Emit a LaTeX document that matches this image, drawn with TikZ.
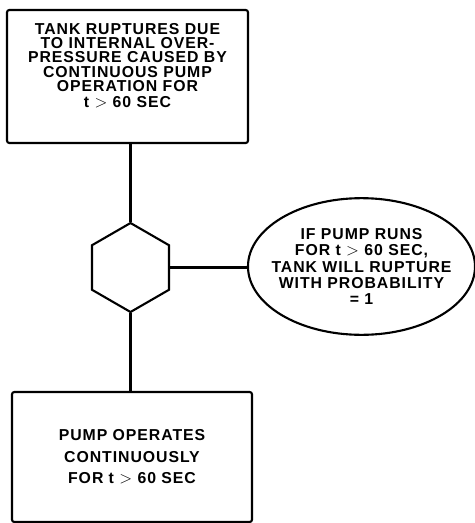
\documentclass[tikz,border=0pt]{standalone}
\usepackage{fontspec}
\newfontfamily\ftafont{Liberation Sans}[LetterSpace=6]
\usepackage{tikz}
\usetikzlibrary{positioning,shapes.geometric,calc}
\newcommand{\bigGt}{{\fontsize{15}{15}\selectfont$>$}}
\tikzset{
  evbox/.style={draw=black,rounded corners=2pt,line width=1.8pt,inner sep=0pt},
  evtxt/.style={align=center,font=\ftafont\bfseries\fontsize{13.5}{12.3}\selectfont,inner sep=0pt},
  gate/.style={regular polygon,regular polygon sides=6,shape border rotate=30,draw=black,
    line width=1.8pt,minimum size=2.67cm,inner sep=0pt},
  cond/.style={ellipse,draw=black,line width=1.8pt,minimum width=6.81cm,minimum height=4.1cm,
    inner sep=0pt},
  link/.style={draw=black,line width=1.8pt},
}
\begin{document}
\begin{tikzpicture}[x=0.03cm,y=-0.03cm]
  \useasboundingbox (0,0) rectangle (475,523);
  % top event
  \node[evbox,minimum width=7.23cm,minimum height=3.99cm] (top) at (127.5,76.5) {};
  \node[evtxt] (toptxt) at (127.5,65.5) {TANK RUPTURES DUE\\TO INTERNAL OVER-\\PRESSURE CAUSED BY\\CONTINUOUS PUMP\\OPERATION FOR\\[1.2pt]t \bigGt\ 60 SEC};
  % inhibit gate and its condition
  \node[gate] (hex) at (130.5,267.5) {};
  \node[cond] (ell) at (361.5,266.5) {};
  \node[evtxt,font=\ftafont\bfseries\fontsize{13.5}{13.8}\selectfont] (elltxt) at (ell)
    {IF PUMP RUNS\\FOR t \bigGt\ 60 SEC,\\TANK WILL RUPTURE\\WITH PROBABILITY\\= 1};
  % input event
  \node[evbox,minimum width=7.2cm,minimum height=3.9cm,align=center,
    font=\ftafont\bfseries\fontsize{13.5}{18.4}\selectfont] (bot) at (132,457)
    {PUMP OPERATES\\CONTINUOUSLY\\FOR t \bigGt\ 60 SEC};
  % connectors
  \draw[link] (hex.north) -- (hex.north |- top.south);
  \draw[link] (hex.south) -- (hex.south |- bot.north);
  \draw[link] (hex.east) -- (hex.east -| ell.west);
\end{tikzpicture}
\end{document}
